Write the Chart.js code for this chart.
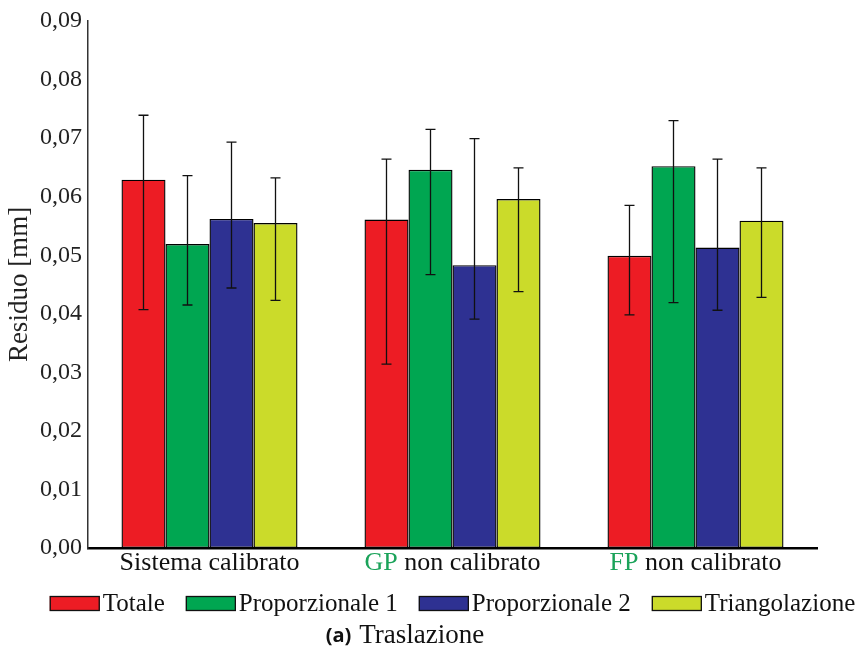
<!DOCTYPE html>
<html lang="it">
<head>
<meta charset="utf-8">
<title>Traslazione</title>
<script src="https://cdn.jsdelivr.net/npm/chart.js@4.4.1/dist/chart.umd.min.js"></script>
<style>
  html, body { margin: 0; padding: 0; background: #fff; }
  #wrap { width: 867px; height: 652px; }
</style>
</head>
<body>
<div id="wrap"><canvas id="chart" width="867" height="652"></canvas></div>
<script>
// Categorie (configurazioni di misura) e prefisso evidenziato in verde
const categories = ["Sistema calibrato", "GP non calibrato", "FP non calibrato"];
const categoryAccent = ["", "GP", "FP"];

// Residuo medio [mm] per metodo
const totale = [0.0629, 0.0561, 0.0499];
const proporzionale1 = [0.0519, 0.0646, 0.0652];
const proporzionale2 = [0.0562, 0.0483, 0.0513];
const triangolazione = [0.0555, 0.0596, 0.0559];

// Estremi delle barre d'errore [mm]
const totaleHigh = [0.0739, 0.0664, 0.0585];
const totaleLow = [0.0407, 0.0314, 0.0398];
const prop1High = [0.0636, 0.0715, 0.0730];
const prop1Low = [0.0415, 0.0467, 0.0419];
const prop2High = [0.0693, 0.0699, 0.0664];
const prop2Low = [0.0444, 0.0391, 0.0406];
const triHigh = [0.0632, 0.0649, 0.0649];
const triLow = [0.0423, 0.0438, 0.0428];

// Tacche dell'asse y
const yTicks = [0, 0.01, 0.02, 0.03, 0.04, 0.05, 0.06, 0.07, 0.08, 0.09];

const seriesNames = ["Totale", "Proporzionale 1", "Proporzionale 2", "Triangolazione"];
const seriesColors = ["#ED1C24", "#00A651", "#2E3192", "#CBDB2A"];
const seriesValues = [totale, proporzionale1, proporzionale2, triangolazione];
const seriesHigh = [totaleHigh, prop1High, prop2High, triHigh];
const seriesLow = [totaleLow, prop1Low, prop2Low, triLow];

const SERIF = "'Liberation Serif', 'DejaVu Serif', serif";
const ACCENT = "#1BA35A";

// Barre d'errore disegnate sopra le barre
const errorBars = {
  id: "errorBars",
  afterDatasetsDraw(chart) {
    const ctx = chart.ctx;
    const y = chart.scales.y;
    ctx.save();
    ctx.strokeStyle = "#111";
    ctx.lineWidth = 1.3;
    chart.data.datasets.forEach((ds, di) => {
      const meta = chart.getDatasetMeta(di);
      meta.data.forEach((bar, i) => {
        const x = bar.x;
        const yh = y.getPixelForValue(ds.errHigh[i]);
        const yl = y.getPixelForValue(ds.errLow[i]);
        ctx.beginPath();
        ctx.moveTo(x, yh); ctx.lineTo(x, yl);
        ctx.moveTo(x - 5, yh); ctx.lineTo(x + 5, yh);
        ctx.moveTo(x - 5, yl); ctx.lineTo(x + 5, yl);
        ctx.stroke();
      });
    });
    ctx.restore();
  }
};

// Etichette delle categorie, legenda e didascalia
const annotations = {
  id: "annotations",
  afterDraw(chart) {
    const ctx = chart.ctx;
    const xs = chart.scales.x;
    const area = chart.chartArea;
    ctx.save();

    // etichette categorie con prefisso colorato
    ctx.font = "26px " + SERIF;
    ctx.textBaseline = "middle";
    ctx.textAlign = "left";
    categories.forEach((label, i) => {
      const cx = xs.getPixelForValue(i);
      const w = ctx.measureText(label).width;
      let x = cx - w / 2;
      const acc = categoryAccent[i];
      const rest = acc ? label.slice(acc.length) : label;
      if (acc) {
        ctx.fillStyle = ACCENT;
        ctx.fillText(acc, x, area.bottom + 15);
        x += ctx.measureText(acc).width;
      }
      ctx.fillStyle = "#111";
      ctx.fillText(rest, x, area.bottom + 15);
    });

    // legenda
    ctx.font = "25px " + SERIF;
    const boxW = 50, boxH = 15, gapText = 3, gapItem = 21;
    const items = chart.data.datasets.map(ds => ({
      label: ds.label, color: ds.backgroundColor, w: ctx.measureText(ds.label).width
    }));
    const total = items.reduce((s, it) => s + boxW + gapText + it.w, 0) + gapItem * (items.length - 1);
    let lx = (area.left + area.right) / 2 - total / 2;
    const ly = area.bottom + 48;
    items.forEach(it => {
      ctx.fillStyle = it.color;
      ctx.fillRect(lx, ly, boxW, boxH);
      ctx.strokeStyle = "#111";
      ctx.lineWidth = 1.3;
      ctx.strokeRect(lx + 0.5, ly + 0.5, boxW - 1, boxH - 1);
      ctx.fillStyle = "#111";
      ctx.fillText(it.label, lx + boxW + gapText, ly + boxH / 2 + 1);
      lx += boxW + gapText + it.w + gapItem;
    });

    // didascalia
    const capY = area.bottom + 88;
    const tagFont = "bold 20px 'Open Sans', 'DejaVu Sans', sans-serif";
    const textFont = "27px " + SERIF;
    ctx.font = tagFont;
    const tagW = ctx.measureText("(a)").width;
    ctx.font = textFont;
    const textW = ctx.measureText("Traslazione").width;
    const spacing = 8;
    const tx = 405 - (tagW + spacing + textW) / 2;
    ctx.fillStyle = "#111";
    ctx.font = tagFont;
    ctx.fillText("(a)", tx, capY);
    ctx.font = textFont;
    ctx.fillText("Traslazione", tx + tagW + spacing, capY);

    ctx.restore();
  }
};

new Chart(document.getElementById("chart"), {
  type: "bar",
  data: {
    labels: categories,
    datasets: seriesNames.map((name, k) => ({
      label: name,
      data: seriesValues[k],
      errHigh: seriesHigh[k],
      errLow: seriesLow[k],
      backgroundColor: seriesColors[k],
      borderColor: "#000",
      borderWidth: 1.4,
      borderSkipped: false,
      categoryPercentage: 0.7243,
      barPercentage: 1.0
    }))
  },
  options: {
    responsive: false,
    animation: false,
    devicePixelRatio: 1,
    layout: { padding: { top: 21, right: 50, bottom: 104, left: 0 } },
    plugins: {
      legend: { display: false },
      tooltip: { enabled: false }
    },
    scales: {
      x: {
        grid: { display: false, drawTicks: false },
        border: { display: true, color: "#000", width: 2.5 },
        ticks: { display: false },
        afterFit(scale) { scale.height = 0; }
      },
      y: {
        min: 0,
        max: 0.09,
        grid: { display: false, drawTicks: false },
        border: { display: true, color: "#333", width: 1.5 },
        afterBuildTicks(scale) { scale.ticks = yTicks.map(v => ({ value: v })); },
        ticks: {
          padding: 6,
          color: "#222",
          font: { family: SERIF, size: 24 },
          callback: v => v.toFixed(2).replace(".", ",")
        },
        title: {
          display: true,
          text: "Residuo [mm]",
          color: "#222",
          font: { family: SERIF, size: 27 },
          padding: { top: 4, bottom: 0 }
        },
        afterFit(scale) { scale.width = 88; }
      }
    }
  },
  plugins: [errorBars, annotations]
});
</script>
</body>
</html>
